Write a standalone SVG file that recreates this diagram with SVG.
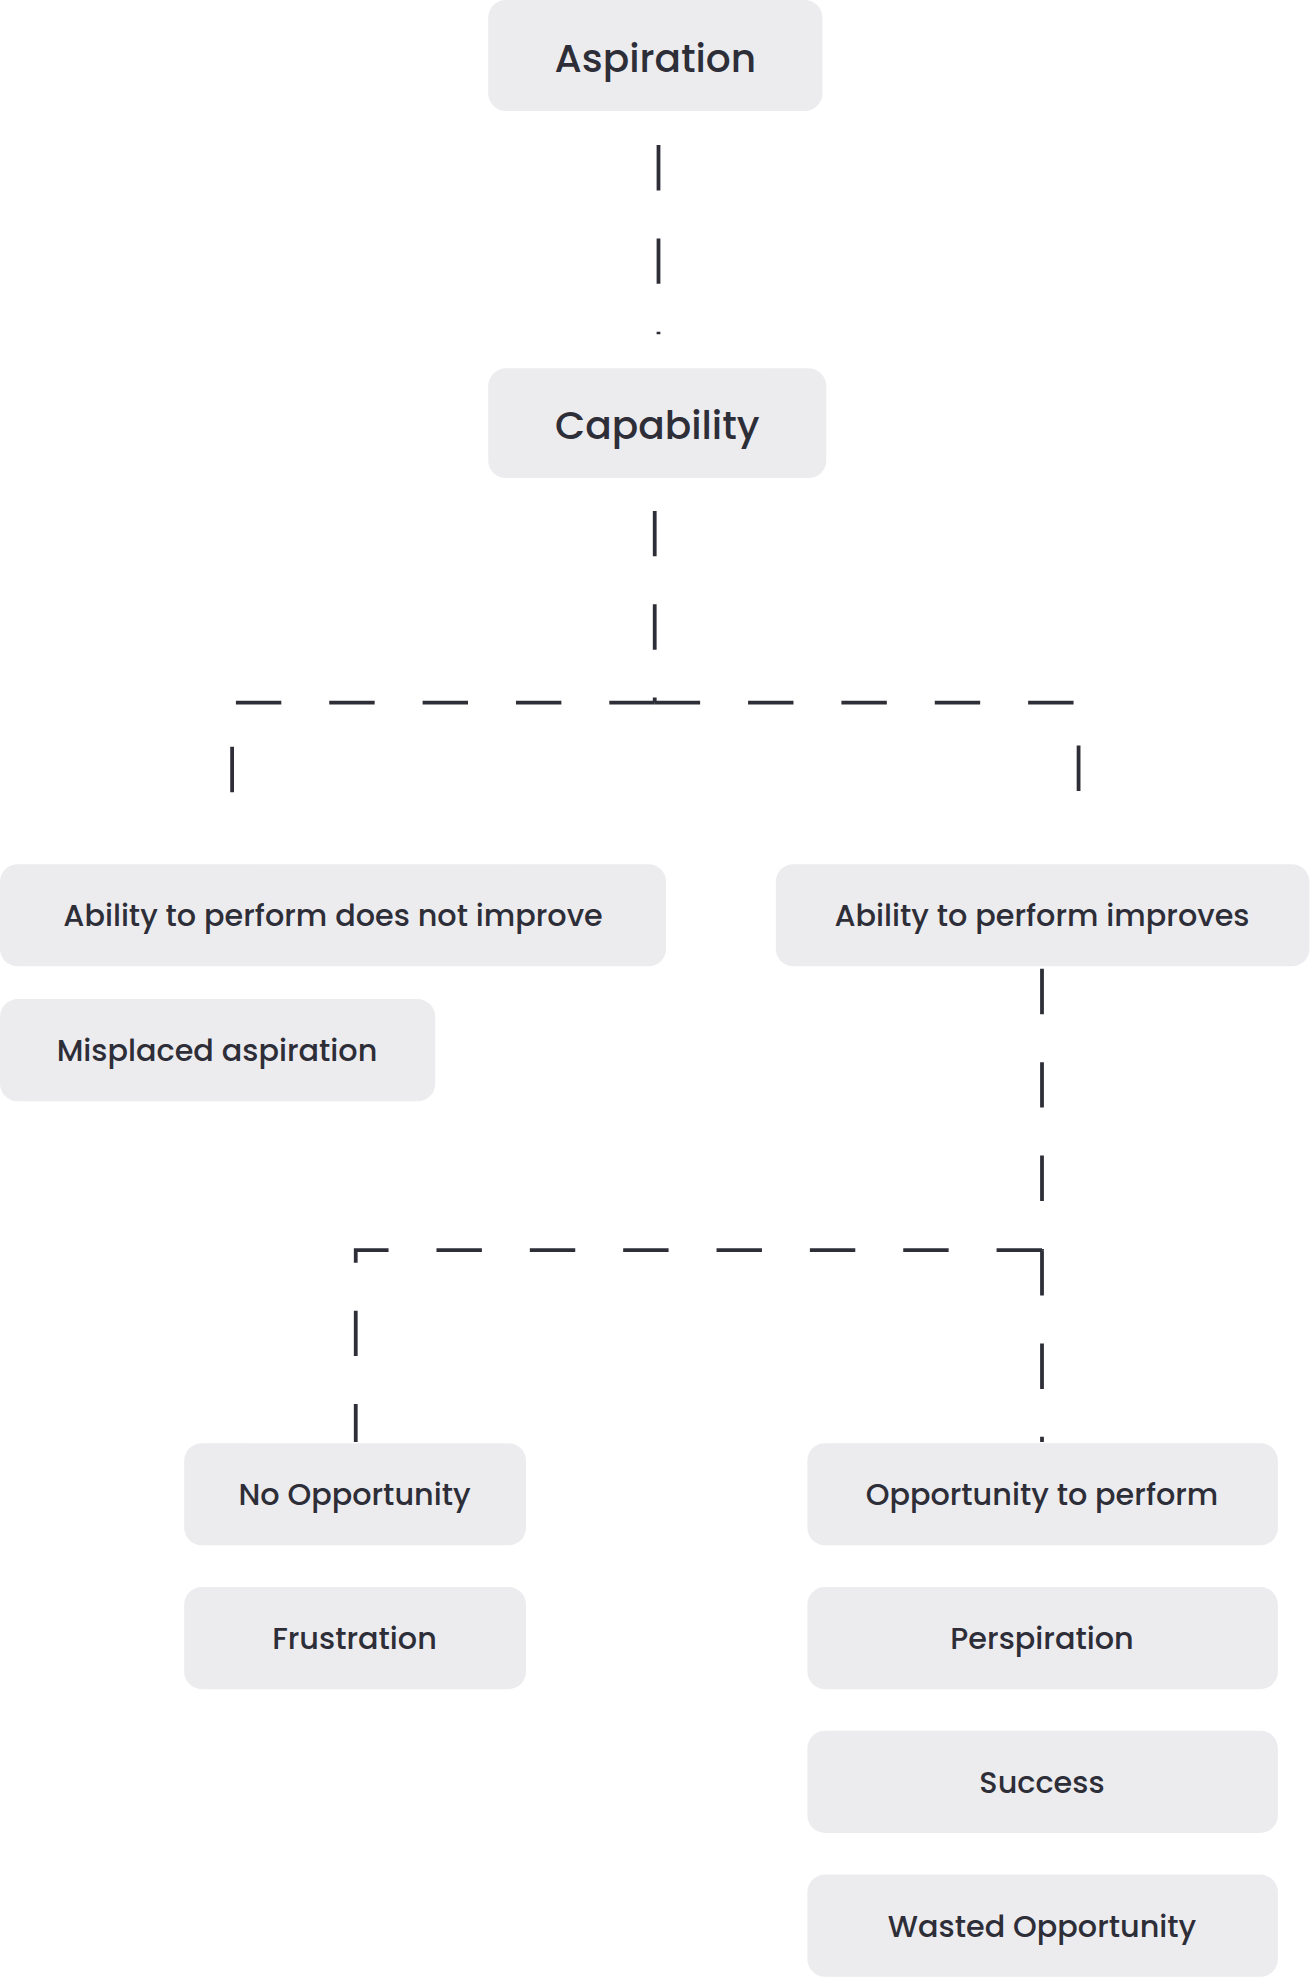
<svg xmlns="http://www.w3.org/2000/svg" width="1312" height="1980" viewBox="0 0 1312 1980">
<style>
.n{fill:#ececef}
.t{font-family:Poppins,"Noto Sans","Open Sans",sans-serif;fill:#2e2e38;text-anchor:middle;dominant-baseline:central}
.b{font-size:31px;font-weight:500}
.s{font-size:24px;font-weight:500}
.c{fill:none;stroke:#2e2e38;stroke-width:3;stroke-dasharray:36 38}
</style>
<rect width="1312" height="1980" fill="#fff"/>
<g transform="scale(1.2615)">
<g id="connectors">
<path class="c" d="M522 115V265"/>
<path class="c" d="M519 405V557"/>
<path class="c" d="M519 557H184V658"/>
<path class="c" d="M519 557H855V658"/>
<path class="c" d="M826 768V991"/>
<path class="c" d="M826 991H282V1143"/>
<path class="c" d="M826 991V1143"/>
</g>
<g id="aspiration"><rect class="n" x="387" y="0" width="265" height="88" rx="14"/><text class="t b" x="519.5" y="46">Aspiration</text></g>
<g id="capability"><rect class="n" x="387" y="292" width="268" height="87" rx="14"/><text class="t b" x="521" y="337">Capability</text></g>
<g id="notimprove"><rect class="n" x="0" y="685" width="528" height="81" rx="14"/><text class="t s" x="264" y="726">Ability to perform does not improve</text></g>
<g id="misplaced"><rect class="n" x="0" y="792" width="345" height="81" rx="14"/><text class="t s" x="172" y="833">Misplaced aspiration</text></g>
<g id="improves"><rect class="n" x="615" y="685" width="423" height="81" rx="14"/><text class="t s" x="826" y="726">Ability to perform improves</text></g>
<g id="noopp"><rect class="n" x="146" y="1144" width="271" height="81" rx="14"/><text class="t s" x="281" y="1185">No Opportunity</text></g>
<g id="frustration"><rect class="n" x="146" y="1258" width="271" height="81" rx="14"/><text class="t s" x="281" y="1299">Frustration</text></g>
<g id="oppperform"><rect class="n" x="640" y="1144" width="373" height="81" rx="14"/><text class="t s" x="826" y="1185">Opportunity to perform</text></g>
<g id="perspiration"><rect class="n" x="640" y="1258" width="373" height="81" rx="14"/><text class="t s" x="826" y="1299">Perspiration</text></g>
<g id="success"><rect class="n" x="640" y="1372" width="373" height="81" rx="14"/><text class="t s" x="826" y="1413">Success</text></g>
<g id="wasted"><rect class="n" x="640" y="1486" width="373" height="81" rx="14"/><text class="t s" x="826" y="1527">Wasted Opportunity</text></g>
</g>
</svg>
